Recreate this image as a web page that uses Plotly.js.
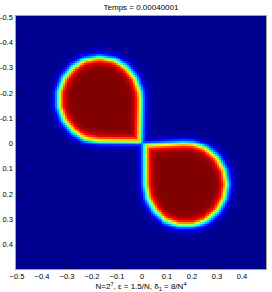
<!DOCTYPE html>
<html><head><meta charset="utf-8">
<script src="https://cdn.plot.ly/plotly-3.0.1.min.js"></script>
<style>html,body{margin:0;padding:0;background:#fff}#plot{width:272px;height:292px}</style>
</head><body><div id="plot"></div>
<script>
// Grid (N = 2^7) and interface parameter from the axis label
const gridN = 128;
const epsilon = 1.5 / 128;
const zRange = [0, 1];
// 0.5-level contours of the two drops
const drop1X = [-0.1729,-0.2264,-0.2761,-0.3129,-0.3325,-0.3325,-0.3129,-0.2761,-0.2264,-0.17,-0.1136,-0.0639,-0.0271,-0.0075,-0.0050,-0.008];
const drop1Y = [-0.0100,-0.0199,-0.0486,-0.0925,-0.1464,-0.2036,-0.2575,-0.3014,-0.3301,-0.34,-0.3301,-0.3014,-0.2575,-0.2036,-0.1721,-0.008];
const drop2X = [0.1669,0.2043,0.2575,0.3009,0.3292,0.339,0.3292,0.3009,0.2575,0.2043,0.1477,0.0945,0.0511,0.0228,0.0130,0.012];
const drop2Y = [-0.0007,0.0015,0.0208,0.0572,0.1063,0.162,0.2177,0.2668,0.3032,0.3225,0.3225,0.3032,0.2668,0.2177,0.1631,0.008];
// Ticks and texts
const tickVals = [-0.5,-0.4,-0.3,-0.2,-0.1,0,0.1,0.2,0.3,0.4];
const xTickText = ['\u22120.5','\u22120.4','\u22120.3','\u22120.2','\u22120.1','0','0.1','0.2','0.3','0.4'];
const yTickText = ['-0.5','-0.4','-0.3','-0.2','-0.1','0','0.1','0.2','0.3','0.4'];
const titleText = 'Temps = 0.00040001';
const xTitleText = 'N=2<sup>7</sup>, \u03b5 = 1.5/N, \u03b4<sub>1</sub> = 8/N<sup>4</sup>';

const jet = [[0,'rgb(0,0,143)'],[0.111,'rgb(0,0,255)'],[0.365,'rgb(0,255,255)'],[0.619,'rgb(255,255,0)'],[0.873,'rgb(255,0,0)'],[1,'rgb(128,0,0)']];

function sdPoly(px, py, xs, ys) {
  let dmin = Infinity, inside = false;
  const n = xs.length;
  for (let i = 0, j = n - 1; i < n; j = i++) {
    const ax = xs[j], ay = ys[j], bx = xs[i], by = ys[i];
    const ex = bx - ax, ey = by - ay;
    let t = ((px - ax) * ex + (py - ay) * ey) / (ex * ex + ey * ey);
    t = Math.max(0, Math.min(1, t));
    const dx = px - (ax + t * ex), dy = py - (ay + t * ey);
    dmin = Math.min(dmin, Math.hypot(dx, dy));
    if (((ay > py) !== (by > py)) && (px < (bx - ax) * (py - ay) / (by - ay) + ax)) inside = !inside;
  }
  return inside ? -dmin : dmin;
}

const h = 1 / gridN;
const w = 1.7 * epsilon;
const xs = [], ys = [];
for (let k = 0; k < gridN; k++) { xs.push(-0.5 + k * h); ys.push(-0.5 + k * h); }
const z = ys.map(y => xs.map(x => {
  const u1 = 0.5 * (1 - Math.tanh(sdPoly(x, y, drop1X, drop1Y) / w));
  const u2 = 0.5 * (1 - Math.tanh(sdPoly(x, y, drop2X, drop2Y) / w));
  return Math.max(u1, u2);
}));

const font = {family: 'Liberation Sans, Arial, sans-serif', size: 8, color: '#000'};
const tickFont = {family: 'Liberation Sans, Arial, sans-serif', size: 7.5, color: '#000'};
const axisCommon = {
  tickvals: tickVals, ticks: 'inside', ticklen: 3, tickcolor: '#000', tickwidth: 0.6,
  showline: true, mirror: true, linecolor: '#666', linewidth: 0.6,
  showgrid: false, zeroline: false, tickfont: tickFont
};
Plotly.newPlot('plot', [{
  type: 'heatmap', x: xs, y: ys, z: z, zmin: zRange[0], zmax: zRange[1],
  colorscale: jet, showscale: false, zsmooth: false, hoverinfo: 'skip'
}], {
  width: 272, height: 292,
  margin: {l: 16, r: 6, t: 16, b: 23},
  paper_bgcolor: '#fff', plot_bgcolor: '#fff',
  font: font,
  title: {text: titleText, font: font, x: 0.5, xref: 'paper', y: 0.976, yref: 'container', yanchor: 'middle'},
  xaxis: Object.assign({}, axisCommon, {range: [-0.5 - h / 2, 0.5 - h / 2], ticktext: xTickText,
    title: {text: xTitleText, font: font, standoff: 0}}),
  yaxis: Object.assign({}, axisCommon, {range: [0.5 - h / 2, -0.5 - h / 2], ticktext: yTickText, ticklabelstandoff: 1})
}, {displayModeBar: false, staticPlot: true});
</script></body></html>
